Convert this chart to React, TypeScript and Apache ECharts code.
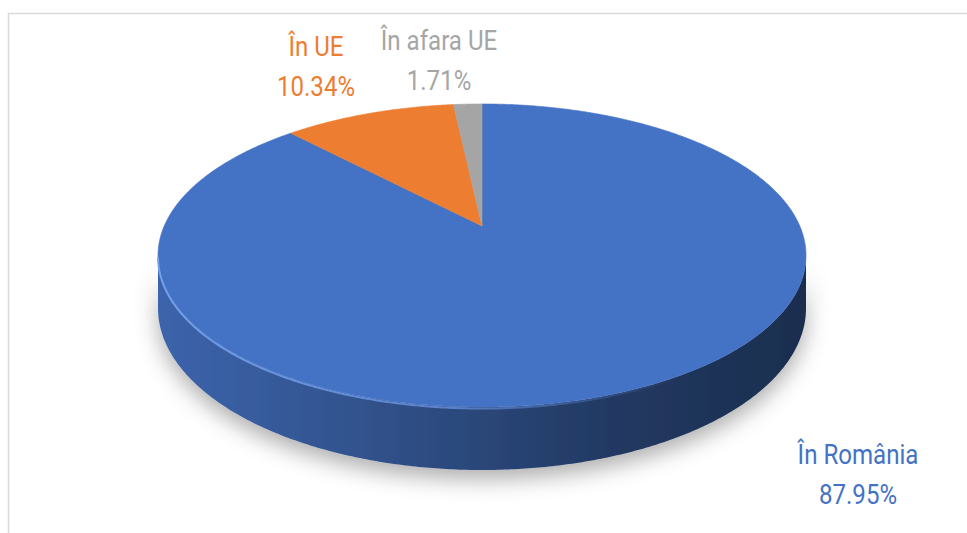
import React, { useEffect, useRef } from "react";
import * as echarts from "echarts";

// ---- data ----
const categories = ["În România", "În UE", "În afara UE"];
const values = [87.95, 10.34, 1.71];
const colors = ["#4472C4", "#ED7D31", "#A5A5A5"];

// ---- layout (label centres, pie projection) ----
const labelCentres = [
  [858, 474],
  [316, 66],
  [439, 60],
];
const CX = 482;
const CY = 226;
const A = 317.8; // horizontal radius factor
const S = 145.8; // vertical radius factor
const PERSP = 0.1947; // perspective strength
const DEPTH = 50.7; // thickness
const FONT = "Roboto, 'Noto Sans', sans-serif";
const FONT_SIZE = 28;
const TEXT_SCALE_X = 0.86;

function shade(hex: string, f: number) {
  const n = parseInt(hex.slice(1), 16);
  const r = Math.round(((n >> 16) & 255) * f);
  const g = Math.round(((n >> 8) & 255) * f);
  const b = Math.round((n & 255) * f);
  return `rgb(${r},${g},${b})`;
}

function proj(deg: number, drop: number) {
  const t = (deg * Math.PI) / 180;
  const s = Math.sin(t);
  const c = Math.cos(t);
  const den = 1 + PERSP * c;
  return [CX + (A * s) / den, CY - (S * c) / den + (drop * DEPTH) / den];
}

export default function App() {
  const ref = useRef<HTMLDivElement>(null);
  useEffect(() => {
    if (!ref.current) return;
    const chart = echarts.init(ref.current, undefined, { renderer: "svg" });
    const total = values.reduce((a, b) => a + b, 0);
    const starts: number[] = [];
    let acc = 0;
    values.forEach((v) => {
      starts.push((acc / total) * 360);
      acc += v;
    });
    const thetaR = (Math.acos(-PERSP) * 180) / Math.PI;
    const thetaL = 360 - thetaR;

    const renderItem = (params: any, api: any) => {
      const i = params.dataIndex;
      const v = api.value(0) as number;
      const a0 = starts[i];
      const a1 = a0 + (v / total) * 360;
      const col = colors[i];
      const top: number[][] = [[CX, CY]];
      for (let a = a0; a < a1; a += 0.5) top.push(proj(a, 0));
      top.push(proj(a1, 0));
      const children: any[] = [
        {
          type: "polygon",
          z2: 5,
          shape: { points: top },
          style: { fill: col, stroke: col, lineWidth: 0.6 },
        },
      ];
      const s0 = Math.max(a0, thetaR);
      const s1 = Math.min(a1, thetaL);
      if (s1 > s0) {
        const upper: number[][] = [];
        const lower: number[][] = [];
        for (let a = s0; a < s1; a += 0.5) {
          upper.push(proj(a, 0));
          lower.push(proj(a, 1));
        }
        upper.push(proj(s1, 0));
        lower.push(proj(s1, 1));
        const pts = upper.concat(lower.slice().reverse());
        children.push({
          type: "polygon",
          z2: 1,
          shape: { points: pts },
          style: {
            fill: new echarts.graphic.LinearGradient(0, 0, 1, 0, [
              { offset: 0, color: shade(col, 0.88) },
              { offset: 0.35, color: shade(col, 0.7) },
              { offset: 0.7, color: shade(col, 0.5) },
              { offset: 1, color: shade(col, 0.4) },
            ]),
            shadowBlur: 22,
            shadowColor: "rgba(0,0,0,0.32)",
            shadowOffsetY: 9,
          },
        });
        // bevel highlight along the front rim
        const rim: number[][] = [];
        for (let a = s1; a > s0; a -= 0.5) {
          const p = proj(a, 0);
          rim.push([p[0], p[1] + 1.5]);
        }
        children.push({
          type: "polyline",
          z2: 6,
          shape: { points: rim },
          style: {
            fill: "none",
            lineWidth: 2,
            stroke: new echarts.graphic.LinearGradient(0, 0, 1, 0, [
              { offset: 0, color: "rgba(120,165,240,0.9)" },
              { offset: 0.45, color: "rgba(110,155,235,0.7)" },
              { offset: 0.8, color: "rgba(100,145,225,0)" },
              { offset: 1, color: "rgba(100,145,225,0)" },
            ]),
          },
        });
      }
      const pct = ((v / total) * 100).toFixed(2) + "%";
      children.push({
        type: "text",
        z2: 10,
        x: labelCentres[i][0],
        y: labelCentres[i][1],
        scaleX: TEXT_SCALE_X,
        style: {
          text: categories[i] + "\n" + pct,
          x: 0,
          y: 0,
          fill: col,
          fontSize: FONT_SIZE,
          fontFamily: FONT,
          lineHeight: 40,
          align: "center",
          verticalAlign: "middle",
        },
      });
      return { type: "group", children };
    };

    chart.setOption({
      animation: false,
      backgroundColor: "#ffffff",
      graphic: [
        {
          type: "rect",
          shape: { x: 8.5, y: 13.5, width: 1000, height: 1000 },
          style: { fill: "none", stroke: "#d9d9d9", lineWidth: 1.5 },
          silent: true,
        },
      ],
      series: [
        {
          type: "custom",
          coordinateSystem: "none",
          silent: true,
          data: values.map((v, i) => ({ name: categories[i], value: v })),
          renderItem,
        },
      ],
    });
    return () => chart.dispose();
  }, []);
  return (
    <div
      ref={ref}
      style={{ position: "fixed", left: 0, top: 0, width: 967, height: 533 }}
    />
  );
}
